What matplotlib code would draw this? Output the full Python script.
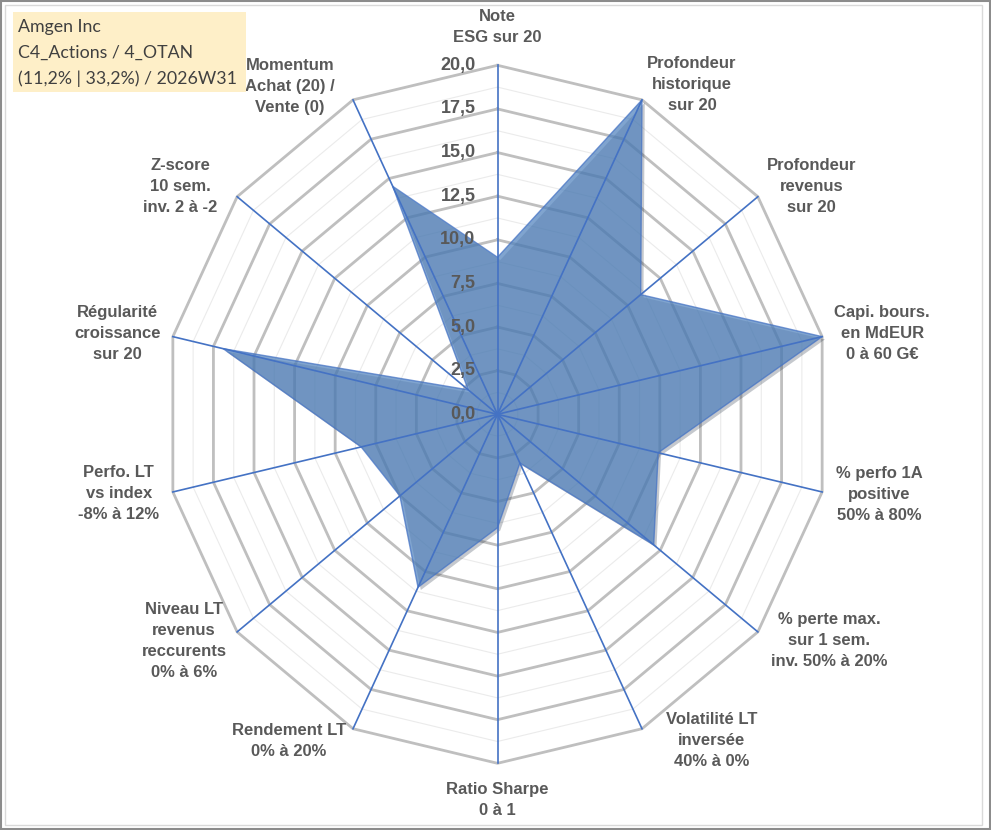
import numpy as np
import matplotlib.pyplot as plt
from matplotlib.patches import Rectangle
import matplotlib.patheffects as pe

# axes, clockwise from the top
labels = [
    'Note\nESG sur 20',
    'Profondeur\nhistorique\nsur 20',
    'Profondeur\nrevenus\nsur 20',
    'Capi. bours.\nen MdEUR\n0 à 60 G€',
    '% perfo 1A\npositive\n50% à 80%',
    '% perte max.\nsur 1 sem.\ninv. 50% à 20%',
    'Volatilité LT\ninversée\n40% à 0%',
    'Ratio Sharpe\n0 à 1',
    'Rendement LT\n0% à 20%',
    'Niveau LT\nrevenus\nreccurents\n0% à 6%',
    'Perfo. LT\nvs index\n-8% à 12%',
    'Régularité\ncroissance\nsur 20',
    'Z-score\n10 sem.\ninv. 2 à -2',
    'Momentum\nAchat (20) /\nVente (0)',
]
scores = [9.0, 20.0, 11.0, 20.0, 9.9, 12.0, 3.1, 6.5, 11.0, 7.5, 8.4, 16.9, 2.25, 14.5]
ticks = [0, 2.5, 5, 7.5, 10, 12.5, 15, 17.5, 20]
tick_labels = ['0,0', '2,5', '5,0', '7,5', '10,0', '12,5', '15,0', '17,5', '20,0']
title_lines = ['Amgen Inc', 'C4_Actions / 4_OTAN', '(11,2% | 33,2%) / 2026W31']

# label offsets from the outer vertex, in pixels (layout only)
label_offsets = [(0, 38), (50, 15), (54, 10), (60, 3), (57, -3), (71, -9), (70, -12),
                 (0, -37), (-64, -12), (-53, -9), (-54, -2), (-55, 3), (-57, 10), (-63, 13)]

W, H = 991, 830
fig = plt.figure(figsize=(W / 100, H / 100), dpi=100)
ax = fig.add_axes([0, 0, 1, 1])
ax.set_axis_off()
# the original picture is a bit squeezed horizontally
px_x, px_y = 333 / 20, 349 / 20
cx, cy = 497.5, 415.7
ax.set_xlim(-cx / px_x, (W - cx) / px_x)
ax.set_ylim(-cy / px_y, (H - cy) / px_y)

n = len(labels)
ang = np.deg2rad(90 - np.arange(n) * 360 / n)
ca, sa = np.cos(ang), np.sin(ang)

# grid rings
minor = np.arange(1.25, 20, 2.5)
for r in minor:
    ax.plot(np.append(r * ca, r * ca[0]), np.append(r * sa, r * sa[0]),
            color='#EBEBEB', lw=0.8, zorder=1)
for r in ticks[1:]:
    ax.plot(np.append(r * ca, r * ca[0]), np.append(r * sa, r * sa[0]),
            color='#BFBFBF', lw=2.0, zorder=1, solid_joinstyle='miter')

# data polygon
v = np.array(scores)
ax.fill(v * ca, v * sa, facecolor='#4F81BD', alpha=0.72, edgecolor='#4472C4', lw=1,
        zorder=2, path_effects=[pe.SimplePatchShadow(offset=(2, -2), alpha=0.25), pe.Normal()])

# spokes
for c, s in zip(ca, sa):
    ax.plot([0, 20 * c], [0, 20 * s], color='#4472C4', lw=1.2, zorder=3)

# radial tick labels
for t, tl in zip(ticks, tick_labels):
    ax.annotate(tl, xy=(0, t), xytext=(-22, 0), textcoords='offset pixels',
                ha='right', va='center', fontsize=13, fontweight='bold',
                color='#595959', family='Liberation Sans', zorder=4)

# category labels
for lab, c, s, off in zip(labels, ca, sa, label_offsets):
    ax.annotate(lab, xy=(20 * c, 20 * s), xytext=off, textcoords='offset pixels',
                ha='center', va='center', fontsize=12, fontweight='bold',
                color='#595959', family='Liberation Sans', linespacing=1.5, zorder=4)

# title box
fig.patches.append(Rectangle((13 / W, 1 - 92 / H), 233 / W, 80 / H, transform=fig.transFigure,
                             facecolor='#FEEFC8', edgecolor='none', zorder=0))
for i, line in enumerate(title_lines):
    fig.text(18 / W, 1 - (27 + 26 * i) / H, line, ha='left', va='center', fontsize=12.8,
             color='#404040', family='Lato')

# chart frame
fig.patches.append(Rectangle((1 / W, 1 / H), (W - 2) / W, (H - 2) / H, transform=fig.transFigure,
                             facecolor='none', edgecolor='#8C8C8C', lw=1.5))
fig.patches.append(Rectangle((5 / W, 5 / H), (982 - 5) / W, (H - 10) / H, transform=fig.transFigure,
                             facecolor='none', edgecolor='#D9D9D9', lw=1))

fig.savefig('out.png', dpi=100)
